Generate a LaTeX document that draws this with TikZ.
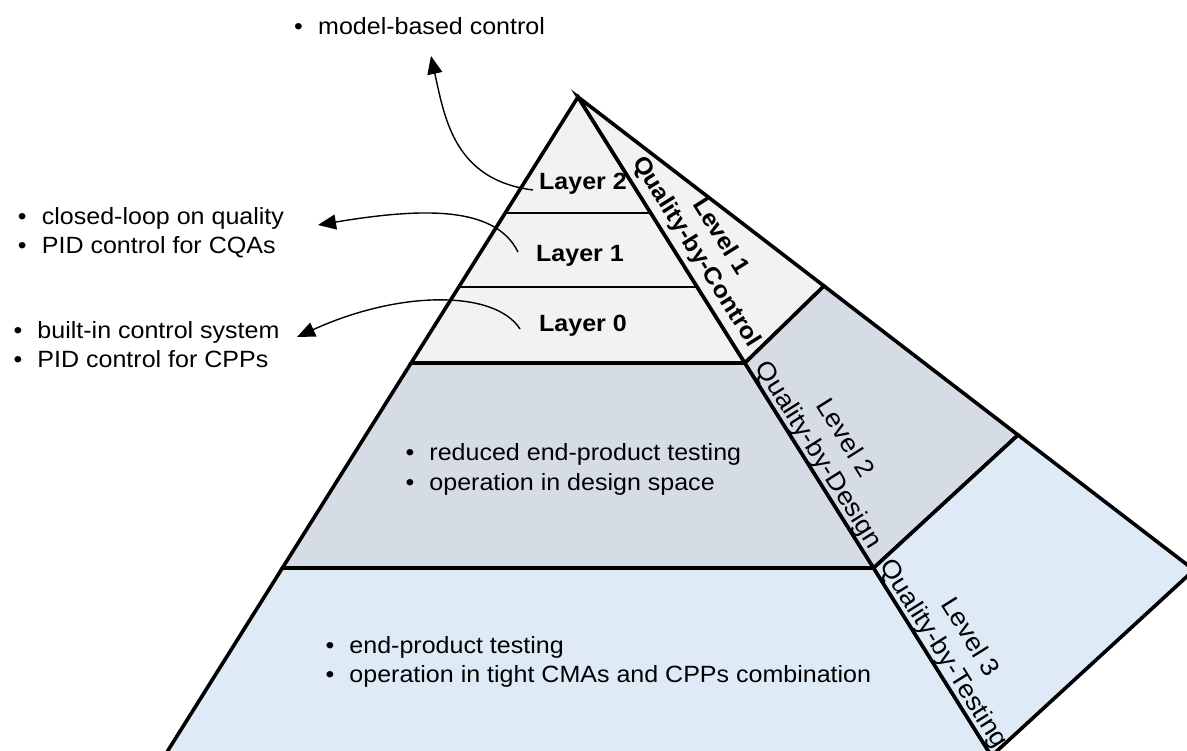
\documentclass[tikz,border=0pt]{standalone}
\usepackage{fontspec}
\setmainfont{Liberation Sans}[FakeStretch=1.065]
\usetikzlibrary{arrows.meta}
\definecolor{topfill}{HTML}{F2F2F2}
\definecolor{midfill}{HTML}{D6DCE5}
\definecolor{lowfill}{HTML}{DEEBF7}
\newcommand\itm[1]{\makebox[24pt][l]{\textbullet}#1}
\newcommand\txtsize{\fontsize{23.5}{29.5}\selectfont}
\newcommand\lvlsize{\fontsize{23.5}{28.5}\selectfont}
\newcommand\lvlbigsize{\fontsize{25.5}{31}\selectfont}

\begin{document}
\begin{tikzpicture}[x=1pt,y=-1pt,
  face/.style={draw=black,line width=3.6pt,line join=miter},
  thinrule/.style={draw=black,line width=1.3pt},
  lst/.style={inner sep=0pt,anchor=base west,font=\txtsize},
  layerlbl/.style={inner sep=0pt,anchor=base,font=\txtsize\bfseries},
  lvl/.style={inner sep=0pt,align=center,rotate=-57.86,font=\lvlbigsize},
  callout/.style={line width=1.4pt,-{Triangle[length=18pt,width=15pt]}}
]
\useasboundingbox (0,0) rectangle (1187,751);
\clip (0,0) rectangle (1187,751);

% pyramid corners
\coordinate (apex) at (578,97);
\coordinate (l213) at (505.2,213); \coordinate (r213) at (650.8,213);
\coordinate (l287) at (458.8,287); \coordinate (r287) at (697.2,287);
\coordinate (l363) at (411.1,363); \coordinate (r363) at (744.9,363);
\coordinate (l568) at (282.4,568); \coordinate (r568) at (873.6,568);
\coordinate (lbot) at (164.5,756); \coordinate (rbot) at (991.5,756);
\coordinate (o1) at (824,286);
\coordinate (o2) at (1018,435);
\coordinate (o3) at (1194,570);

% front face
\path[face,fill=topfill] (apex) -- (r363) -- (l363) -- cycle;
\path[face,fill=midfill] (l363) -- (r363) -- (r568) -- (l568) -- cycle;
\path[face,fill=lowfill] (l568) -- (r568) -- (rbot) -- (lbot) -- cycle;
% side face
\path[face,fill=topfill] (apex) -- (o1) -- (r363) -- cycle;
\path[face,fill=midfill] (r363) -- (o1) -- (o2) -- (r568) -- cycle;
\path[face,fill=lowfill] (r568) -- (o2) -- (o3) -- (rbot) -- cycle;
% layer separators
\draw[thinrule] (l213) -- (r213);
\draw[thinrule] (l287) -- (r287);

% layer names
\node[layerlbl] (lay2) at (583,190) {Layer 2};
\node[layerlbl] (lay1) at (580,262) {Layer 1};
\node[layerlbl] (lay0) at (583,332) {Layer 0};

% level names along the side edge
\node[lvl,font=\lvlsize\bfseries] (lev1) at (708,244.5) {Level 1\\Quality-by-Control};
\node[lvl] (lev2) at (831,447) {Level 2\\Quality-by-Design};
\node[lvl] (lev3) at (956,646) {Level 3\\Quality-by-Testing};

% bullet lists
\node[lst] (mbc) at (294,35) {\itm{model-based control}};
\node[lst] (cl) at (17.7,224.3) {\begin{tabular}[t]{@{}l@{}}\itm{closed-loop on quality}\\\itm{PID control for CQAs}\end{tabular}};
\node[lst] (bi) at (13.3,338.3) {\begin{tabular}[t]{@{}l@{}}\itm{built-in control system}\\\itm{PID control for CPPs}\end{tabular}};
\node[lst] (rd) at (405.3,460.7) {\begin{tabular}[t]{@{}l@{}}\itm{reduced end-product testing}\\\itm{operation in design space}\end{tabular}};
\node[lst] (ep) at (325.3,653.3) {\begin{tabular}[t]{@{}l@{}}\itm{end-product testing}\\\itm{operation in tight CMAs and CPPs combination}\end{tabular}};

% callout arrows from the layers to their descriptions
\coordinate (s2) at (533,190); \coordinate (t2) at (431,56);
\coordinate (s1) at (518,252); \coordinate (t1) at (318,225);
\coordinate (s0) at (520,329); \coordinate (t0) at (297,337);
\draw[callout] (s2) .. controls (455,180) and (445,120) .. (t2);
\draw[callout] (s1) .. controls (495,205) and (420,208) .. (t1);
\draw[callout] (s0) .. controls (495,290) and (400,290) .. (t0);
\end{tikzpicture}
\end{document}
